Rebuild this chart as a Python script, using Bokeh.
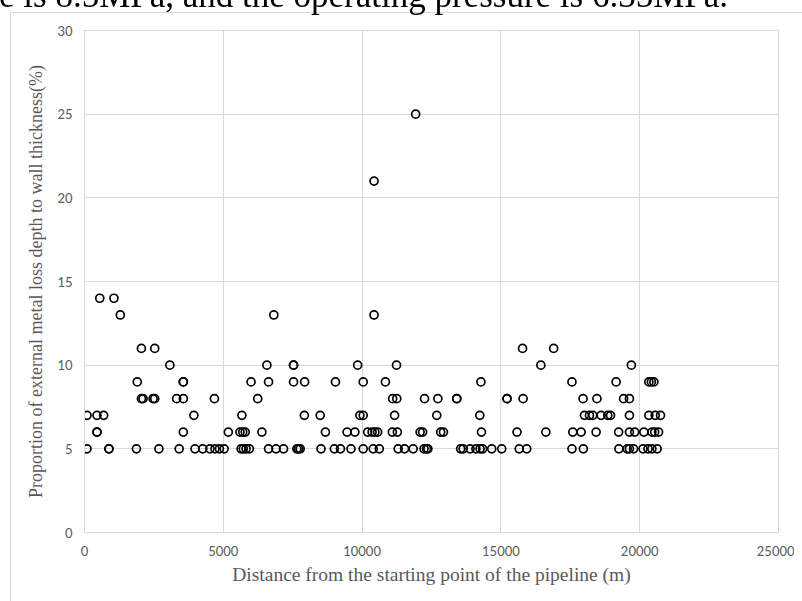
from bokeh.plotting import figure
from bokeh.models import Div, Range1d, FixedTicker
from bokeh.embed import file_html
from bokeh.resources import INLINE

# ---- data ----
x_25 = [11930]
x_21 = [10430]
x_14 = [550, 1060]
x_13 = [1290, 6820, 10430]
x_11 = [2050, 2530, 15780, 16900]
x_10 = [3075, 6570, 7530, 7530, 9840, 11240, 16440, 19700]
x_9 = [1900, 3560, 3560, 6000, 6630, 7530, 7930, 9040, 10040, 10840, 14280,
       17560, 19150, 20330, 20420, 20510]
x_8 = [2050, 2110, 2470, 2530, 3320, 3560, 4680, 6240, 11100, 11250, 12250,
       12730, 13410, 13410, 15220, 15220, 15800, 17960, 18460, 19420, 19630]
x_7 = [90, 450, 690, 3940, 5670, 7920, 8490, 9920, 10040, 11170, 12690, 14240,
       18010, 18190, 18310, 18610, 18850, 18950, 19630, 20330, 20560, 20750]
x_6 = [450, 450, 3560, 5180, 5600, 5700, 5790, 6390, 8680, 9460, 9740, 10200,
       10360, 10460, 10560, 11090, 11270, 12090, 12180, 12830, 12930, 14300,
       15580, 16620, 17590, 17890, 18430, 19240, 19630, 19820, 20150, 20440,
       20540, 20680]
x_5 = [90, 880, 880, 1870, 2680, 3410, 3980, 4260, 4520, 4700, 4860, 5030,
       5640, 5720, 5820, 5940, 6630, 6900, 7170, 7650, 7710, 7770, 8520, 9000,
       9220, 9600, 10040, 10400, 10620, 11300, 11530, 11840, 12230, 12320,
       12370, 13550, 13640, 13890, 14100, 14250, 14340, 14670, 15030, 15660,
       15930, 17560, 17970, 19250, 19550, 19630, 19780, 20120, 20300, 20440,
       20630]

groups = [(25, x_25), (21, x_21), (14, x_14), (13, x_13), (11, x_11),
          (10, x_10), (9, x_9), (8, x_8), (7, x_7), (6, x_6), (5, x_5)]
distance = []
proportion = []
for yv, xs in groups:
    distance += xs
    proportion += [yv] * len(xs)

x_ticks = [0, 5000, 10000, 15000, 20000, 25000]
y_ticks = [0, 5, 10, 15, 20, 25, 30]

x_title = "Distance from the starting point of the pipeline (m)"
y_title = "Proportion of external metal loss depth to wall thickness(%)"
top_text = "e is 8.5MPa, and the operating pressure is 6.35MPa."

GRID = "#d9d9d9"
LABEL = "#595959"

p = figure(width=794, height=593, output_backend="svg", toolbar_location=None,
           x_range=Range1d(0, 25000), y_range=Range1d(0, 30),
           min_border_left=84, min_border_right=16, min_border_top=30,
           min_border_bottom=61)
p.outline_line_color = GRID
p.background_fill_color = "white"
p.border_fill_color = None

p.scatter(distance, proportion, marker="circle", size=8, fill_color=None,
          line_color="black", line_width=1.7)

for ax in (p.xaxis, p.yaxis):
    ax.axis_line_color = GRID
    ax.major_tick_line_color = None
    ax.minor_tick_line_color = None
    ax.major_tick_out = 0
    ax.major_tick_in = 0
    ax.major_label_text_font = "Lato"
    ax.major_label_text_font_size = "13px"
    ax.major_label_text_color = LABEL
    ax.axis_label_text_font = "Liberation Serif"
    ax.axis_label_text_font_style = "normal"
    ax.axis_label_text_color = LABEL

p.xaxis.axis_label_text_font_size = "19.5px"
p.yaxis.axis_label_text_font_size = "18px"
p.xaxis.ticker = FixedTicker(ticks=x_ticks)
p.yaxis.ticker = FixedTicker(ticks=y_ticks)
p.xaxis.axis_label = x_title
p.yaxis.axis_label = y_title
p.xaxis.major_label_standoff = 13
p.yaxis.major_label_standoff = 12
p.xaxis.axis_label_standoff = 5
p.yaxis.axis_label_standoff = 8

p.xgrid.grid_line_color = GRID
p.ygrid.grid_line_color = GRID

html = (
    '<div style="position:fixed;left:10px;top:12px;width:1400px;height:1200px;'
    'border-left:1px solid #d9d9d9;border-top:1px solid #d9d9d9;'
    'pointer-events:none;box-sizing:border-box"></div>'
    '<div style="position:fixed;left:-1px;top:-24px;font-family:\'Liberation Serif\';'
    'font-size:35px;color:#000;white-space:nowrap;line-height:normal">'
    + top_text + '</div>'
)
div = Div(text=html, width=1, height=1)

open("out.html", "w").write(file_html([p, div], INLINE))
